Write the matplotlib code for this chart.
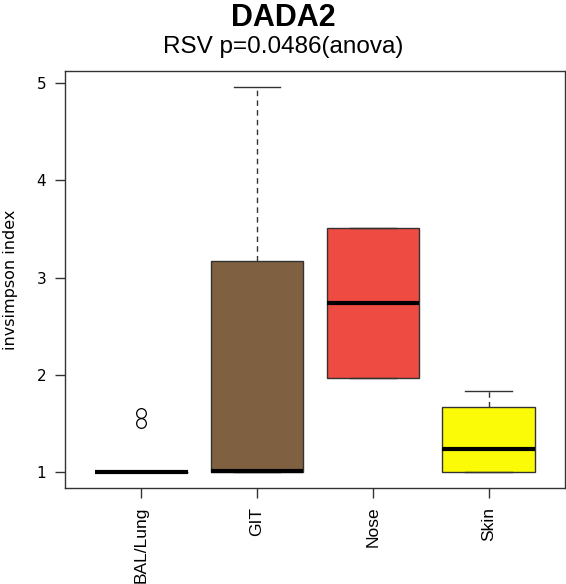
import matplotlib.pyplot as plt

groups = ['BAL/Lung', 'GIT', 'Nose', 'Skin']
q1 = [1.0, 1.0, 1.97, 1.0]
med = [1.0, 1.01, 2.74, 1.24]
q3 = [1.0, 3.17, 3.51, 1.67]
whislo = [1.0, 1.0, 1.97, 1.0]
whishi = [1.0, 4.96, 3.51, 1.84]
fliers = [[1.51, 1.61], [], [], []]
colors = ['white', '#7f6040', '#ee4b43', '#fbfb07']

stats = []
for i, g in enumerate(groups):
    stats.append(dict(label=g, q1=q1[i], med=med[i], q3=q3[i],
                      whislo=whislo[i], whishi=whishi[i], fliers=fliers[i]))

fig = plt.figure(figsize=(5.66, 5.84), dpi=100)
ax = fig.add_axes([0.1148, 0.1644, 0.8834, 0.714])

bp = ax.bxp(stats, positions=[1, 2, 3, 4], widths=0.8, capwidths=0.4,
            patch_artist=True,
            boxprops=dict(edgecolor='#333333', linewidth=1.0),
            medianprops=dict(color='black', linewidth=3.0, solid_capstyle='butt'),
            whiskerprops=dict(color='#333333', linewidth=1.0, linestyle=(0, (4, 3))),
            capprops=dict(color='#333333', linewidth=1.0),
            flierprops=dict(marker='o', markersize=7, markerfacecolor='none',
                            markeredgecolor='black', markeredgewidth=0.9))
for patch, c in zip(bp['boxes'], colors):
    patch.set_facecolor(c)

ax.set_xlim(0.34, 4.66)
ax.set_ylim(0.84, 5.12)
ax.set_yticks([1, 2, 3, 4, 5])
ax.set_xticks([1, 2, 3, 4])
ax.set_xticklabels(groups, rotation=90, fontsize=12.5, family='Liberation Sans')
for lab in ax.get_yticklabels():
    lab.set_fontsize(11)
    lab.set_family('DejaVu Sans')
ax.tick_params(length=7.5, width=1, pad=6, color='#333333')

for s in ax.spines.values():
    s.set_linewidth(1.0)
    s.set_color('#333333')

ax.set_ylabel('invsimpson index', fontsize=11.5, family='DejaVu Sans', labelpad=13)

fig.text(0.5, 0.9555, 'DADA2', ha='center', va='baseline', fontsize=22,
         fontweight='bold', family='Liberation Sans')
fig.text(0.5, 0.909, 'RSV p=0.0486(anova)', ha='center', va='baseline', fontsize=17.5,
         family='Liberation Sans')

fig.savefig('out.png', dpi=100)
